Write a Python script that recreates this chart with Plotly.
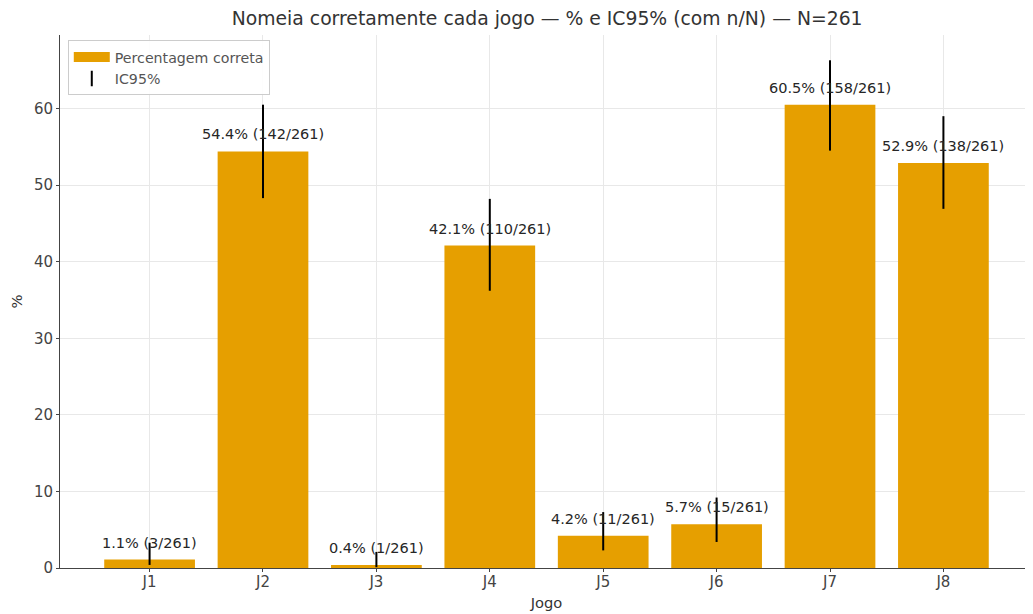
import plotly.graph_objects as go

jogos = ["J1", "J2", "J3", "J4", "J5", "J6", "J7", "J8"]
pct = [1.1, 54.4, 0.4, 42.1, 4.2, 5.7, 60.5, 52.9]
n_ok = [3, 142, 1, 110, 11, 15, 158, 138]
N = 261
ci_lo = [0.4, 48.3, 0.1, 36.2, 2.3, 3.4, 54.5, 46.9]
ci_hi = [3.3, 60.5, 2.1, 48.2, 7.3, 9.2, 66.3, 59.0]
labels = [f"{p:.1f}% ({k}/{N})" for p, k in zip(pct, n_ok)]

orange = "#E69F00"
font = "DejaVu Sans"

fig = go.Figure()
fig.add_trace(go.Bar(
    x=jogos, y=pct, width=0.8, marker=dict(color=orange, line=dict(width=0)),
    name="Percentagem correta", showlegend=False,
    error_y=dict(type="data", symmetric=False,
                 array=[h - p for h, p in zip(ci_hi, pct)],
                 arrayminus=[p - l for p, l in zip(pct, ci_lo)],
                 color="black", thickness=2, width=0),
))
# legend entries
fig.add_trace(go.Scatter(
    x=[None], y=[None], mode="lines", name="Percentagem correta",
    line=dict(color=orange, width=10),
))
fig.add_trace(go.Scatter(
    x=[None], y=[None], mode="markers", name="IC95%",
    marker=dict(symbol="line-ns", size=11, color="black", line=dict(width=2, color="black")),
))
for j, p, t in zip(jogos, pct, labels):
    fig.add_annotation(x=j, y=p, text=t, showarrow=False, yshift=17,
                       font=dict(family=font, size=14.5, color="#262626"))

fig.update_layout(
    width=1025, height=606,
    margin=dict(l=52, r=0, t=27, b=46, autoexpand=False),
    paper_bgcolor="white", plot_bgcolor="white",
    font=dict(family=font, size=15, color="#333"),
    title=dict(text="Nomeia corretamente cada jogo — % e IC95% (com n/N) — N=261",
               x=0.526, xanchor="center", y=0.9835, yanchor="middle",
               font=dict(family=font, size=18.8, color="#333")),
    showlegend=True,
    legend=dict(x=0.008, y=0.99, xanchor="left", yanchor="top",
                bgcolor="rgba(255,255,255,0.9)", bordercolor="#ccc", borderwidth=1,
                font=dict(family=font, size=14.2, color="#555"), tracegroupgap=0,
                itemwidth=36),
    bargap=0.2,
)
fig.update_xaxes(type="category", range=[-0.79, 7.79], showgrid=True, gridcolor="#e8e8e8",
                 showline=True, linecolor="#444", linewidth=1, ticks="outside", ticklen=3,
                 tickcolor="#444", automargin=False, ticklabelstandoff=-3,
                 title=dict(text="Jogo", standoff=7, font=dict(size=14.7)),
                 tickfont=dict(size=15, color="#444"))
fig.update_yaxes(range=[0, 69.6], showgrid=True, gridcolor="#e8e8e8", dtick=10,
                 showline=True, linecolor="#444", linewidth=1, ticks="outside", ticklen=3,
                 tickcolor="#444", zeroline=False, automargin=False,
                 title=dict(text="%", standoff=11, font=dict(size=14.7)),
                 tickfont=dict(size=15, color="#444"))

fig.write_html("out.html")
